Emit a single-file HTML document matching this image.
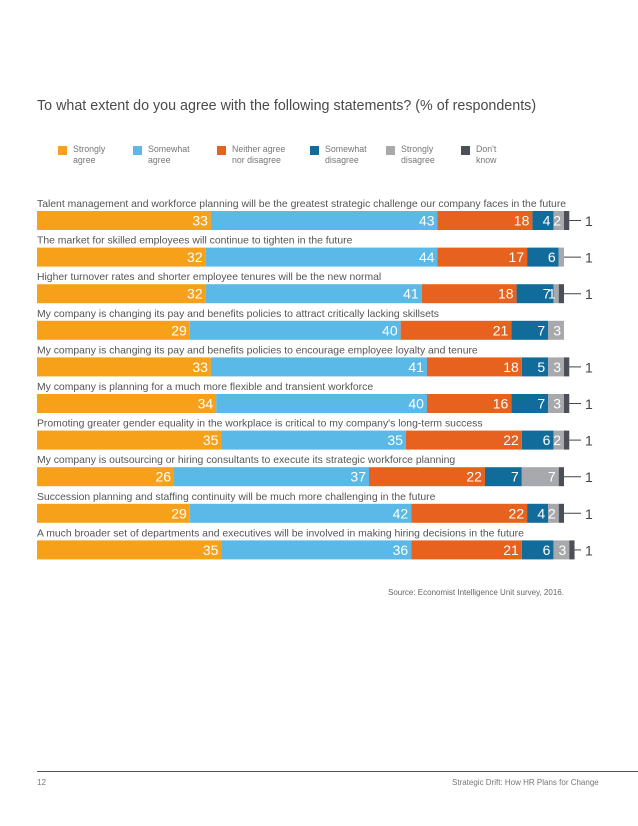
<!DOCTYPE html>
<html><head><meta charset="utf-8"><style>
body{margin:0;background:#fff;font-family:"Liberation Sans",sans-serif;}
#page{position:relative;width:638px;height:826px;overflow:hidden;}
.t{position:absolute;white-space:nowrap;}
</style></head><body>
<div id="page">
<div class="t" style="left:37px;top:98px;font-size:14.3px;color:#4a4a4a;">To what extent do you agree with the following statements? (% of respondents)</div>
<div id="legend"></div>
<svg id="chart" width="638" height="600" style="position:absolute;left:0;top:0"></svg>
<div class="t" style="left:388px;top:588px;font-size:8px;color:#666;">Source: Economist Intelligence Unit survey, 2016.</div>
<div style="position:absolute;left:37px;top:771px;width:601px;height:1px;background:#555;"></div>
<div class="t" style="left:37px;top:778px;font-size:8px;color:#777;">12</div>
<div class="t" style="left:452px;top:778px;font-size:8px;color:#777;">Strategic Drift: How HR Plans for Change</div>
</div>
<script>
const categories=["Talent management and workforce planning will be the greatest strategic challenge our company faces in the future","The market for skilled employees will continue to tighten in the future","Higher turnover rates and shorter employee tenures will be the new normal","My company is changing its pay and benefits policies to attract critically lacking skillsets","My company is changing its pay and benefits policies to encourage employee loyalty and tenure","My company is planning for a much more flexible and transient workforce","Promoting greater gender equality in the workplace is critical to my company's long-term success","My company is outsourcing or hiring consultants to execute its strategic workforce planning","Succession planning and staffing continuity will be much more challenging in the future","A much broader set of departments and executives will be involved in making hiring decisions in the future"];
const stronglyAgree=[33,32,32,29,33,34,35,26,29,35];
const somewhatAgree=[43,44,41,40,41,40,35,37,42,36];
const neither=[18,17,18,21,18,16,22,22,22,21];
const somewhatDisagree=[4,6,7,7,5,7,6,7,4,6];
const stronglyDisagree=[2,1,1,3,3,3,2,7,2,3];
const dontKnow=[1,0,1,0,1,1,1,1,1,1];
const callout=[1,1,1,null,1,1,1,1,1,1];
const seriesNames=["Strongly agree","Somewhat agree","Neither agree nor disagree","Somewhat disagree","Strongly disagree","Don't know"];
const colors=["#f7a11a","#5ab9e6","#e8621f","#116c9b","#a7a9ac","#4d4f56"];
const series=[stronglyAgree,somewhatAgree,neither,somewhatDisagree,stronglyDisagree,dontKnow];
const NS="http://www.w3.org/2000/svg";
const svg=document.getElementById('chart');
const x0=37,scale=5.27,rowTop=211,pitch=36.6,barH=19;
function xs(v){return x0+v*scale;}
function ys(i){return rowTop+i*pitch;}
const leg=document.getElementById('legend');
const legX=[58,133,217,310,386,461];
seriesNames.forEach((n,k)=>{
 const d=document.createElement('div');
 
 
 d.className='t';d.style.left=legX[k]+'px';d.style.top='144px';
 const parts=n==="Neither agree nor disagree"?["Neither agree","nor disagree"]:n.split(' ');
 d.innerHTML='<span style="position:absolute;left:0;top:2px;width:9px;height:9px;background:'+colors[k]+'"></span><span style="position:absolute;left:15px;top:0;font-size:8.8px;line-height:11px;color:#777">'+parts[0]+'<br>'+parts.slice(1).join(' ')+'</span>';
 leg.appendChild(d);
});
categories.forEach((c,i)=>{
 const y=ys(i);
 const t=document.createElementNS(NS,'text');
 
 
 t.setAttribute('x',x0);t.setAttribute('y',y-4);t.setAttribute('font-size','10.4');t.setAttribute('fill','#555');
 t.setAttribute('font-family','Liberation Sans, sans-serif');t.textContent=c;svg.appendChild(t);
 let cum=0;
 series.forEach((s,k)=>{
  const v=s[i];if(!v)return;
  const r=document.createElementNS(NS,'rect');
  
  
  r.setAttribute('x',xs(cum));r.setAttribute('y',y);r.setAttribute('width',v*scale);r.setAttribute('height',barH);r.setAttribute('fill',colors[k]);
  svg.appendChild(r);
  const showLabel=k<4||(k===4&&!(i===1));
  if(k<5&&showLabel){
   const l=document.createElementNS(NS,'text');
   
   
   l.setAttribute('x',xs(cum+v)-3);l.setAttribute('y',y+14.5);l.setAttribute('text-anchor','end');
   l.setAttribute('font-size','14');l.setAttribute('fill','#fff');l.setAttribute('font-family','Liberation Sans, sans-serif');
   l.textContent=v;svg.appendChild(l);
  }
  cum+=v;
 });
 if(callout[i]!==null){
  const ln=document.createElementNS(NS,'line');
  
  
  ln.setAttribute('x1',xs(cum));ln.setAttribute('x2',581);ln.setAttribute('y1',y+barH/2);ln.setAttribute('y2',y+barH/2);ln.setAttribute('stroke','#444');ln.setAttribute('stroke-width','1');
  svg.appendChild(ln);
  const ct=document.createElementNS(NS,'text');
  
  
  ct.setAttribute('x',585);ct.setAttribute('y',y+15);ct.setAttribute('font-size','14');ct.setAttribute('fill','#444');ct.setAttribute('font-family','Liberation Sans, sans-serif');
  ct.textContent=callout[i];svg.appendChild(ct);
 }
});
</script>
</body></html>
